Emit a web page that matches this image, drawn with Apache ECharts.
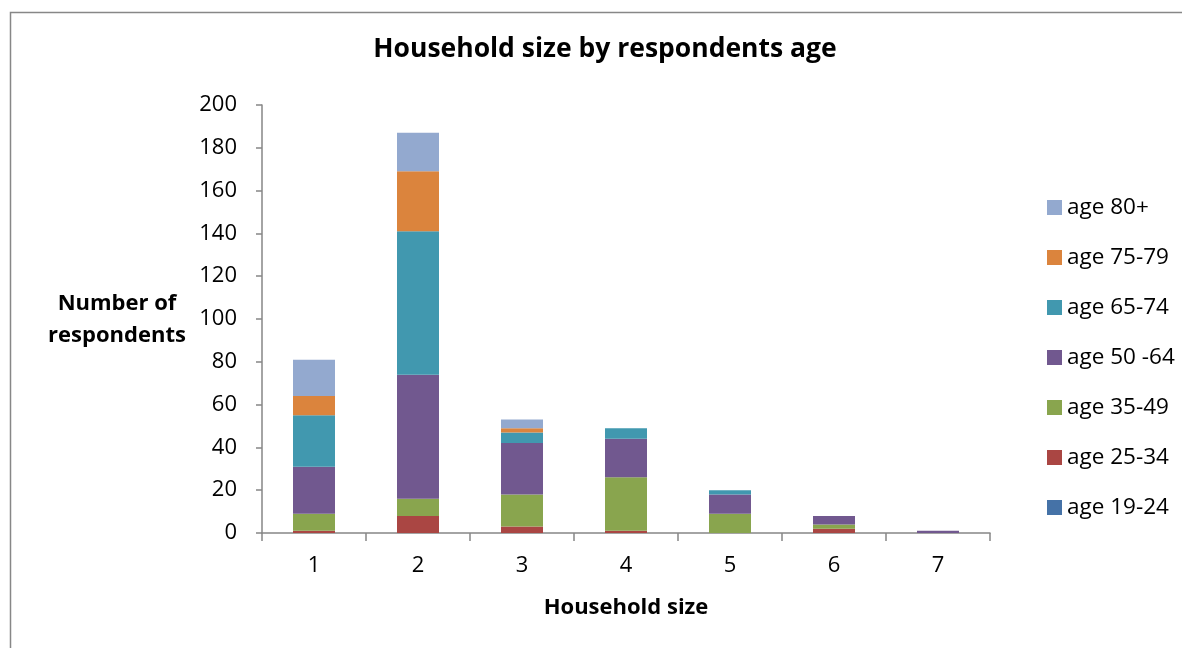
<!DOCTYPE html>
<html>
<head>
<meta charset="utf-8">
<script src="https://cdn.jsdelivr.net/npm/echarts@6/dist/echarts.min.js"></script>
<style>
  html, body { margin: 0; padding: 0; background: #ffffff; }
  #chart { width: 1182px; height: 648px; }
</style>
</head>
<body>
<div id="chart"></div>
<script>
// Household sizes (x categories)
const householdSizes = ['1', '2', '3', '4', '5', '6', '7'];

// Respondent counts per age group, one value per household size
const age19to24 = [0, 0, 0, 0, 0, 0, 0];
const age25to34 = [1, 8, 3, 1, 0, 2, 0];
const age35to49 = [8, 8, 15, 25, 9, 2, 0];
const age50to64 = [22, 58, 24, 18, 9, 4, 1];
const age65to74 = [24, 67, 5, 5, 2, 0, 0];
const age75to79 = [9, 28, 2, 0, 0, 0, 0];
const age80plus = [17, 18, 4, 0, 0, 0, 0];

const seriesNames = ['age 19-24', 'age 25-34', 'age 35-49', 'age 50 -64', 'age 65-74', 'age 75-79', 'age 80+'];
const seriesData = [age19to24, age25to34, age35to49, age50to64, age65to74, age75to79, age80plus];
const seriesColors = ['#4572A7', '#AA4643', '#89A54E', '#71588F', '#4198AF', '#DB843D', '#93A9CF'];

const FONT = '"Open Sans", "Noto Sans", sans-serif';
const AXIS_COLOR = '#868686';

const chart = echarts.init(document.getElementById('chart'), null, { renderer: 'canvas' });

chart.setOption({
  backgroundColor: '#ffffff',
  animation: false,
  title: {
    text: 'Household size by respondents age',
    left: 605,
    top: 36,
    padding: 0,
    textAlign: 'center',
    textStyle: { fontFamily: FONT, fontSize: 26.5, fontWeight: 'bold', color: '#000000' }
  },
  legend: {
    orient: 'vertical',
    left: 1047,
    top: 195,
    padding: 0,
    itemWidth: 15,
    itemHeight: 15,
    itemGap: 25,
    icon: 'rect',
    data: seriesNames.slice().reverse(),
    textStyle: { fontFamily: FONT, fontSize: 22.5, color: '#000000', lineHeight: 25 }
  },
  grid: { left: 262, right: 192, top: 105, bottom: 115, containLabel: false },
  xAxis: {
    type: 'category',
    data: householdSizes,
    name: 'Household size',
    nameLocation: 'middle',
    nameGap: 64,
    nameTextStyle: { fontFamily: FONT, fontSize: 22, fontWeight: 'bold', color: '#000000' },
    axisLine: { lineStyle: { color: AXIS_COLOR, width: 1.5 } },
    axisTick: { show: true, length: 8, interval: 0, alignWithLabel: false, lineStyle: { color: AXIS_COLOR, width: 1.5 } },
    axisLabel: { fontFamily: FONT, fontSize: 22, color: '#000000', margin: 22 }
  },
  yAxis: {
    type: 'value',
    min: 0,
    max: 200,
    interval: 20,
    axisLine: { show: true, lineStyle: { color: AXIS_COLOR, width: 1.5 } },
    axisTick: { show: true, length: 6, lineStyle: { color: AXIS_COLOR, width: 1.5 } },
    splitLine: { show: false },
    axisLabel: { fontFamily: FONT, fontSize: 22, color: '#000000', margin: 25 }
  },
  graphic: [
    {
      type: 'rect',
      shape: { x: 10.5, y: 12.5, width: 1300, height: 800 },
      style: { fill: 'none', stroke: '#878787', lineWidth: 1.5 },
      silent: true,
      z: -10
    },
    {
      type: 'text',
      x: 117,
      y: 320,
      style: {
        text: 'Number of\nrespondents',
        align: 'center',
        verticalAlign: 'middle',
        fontFamily: FONT,
        fontSize: 22,
        fontWeight: 'bold',
        lineHeight: 32,
        fill: '#000000'
      }
    }
  ],
  series: seriesNames.map((name, i) => ({
    name: name,
    type: 'bar',
    stack: 'total',
    barWidth: 42,
    data: seriesData[i],
    itemStyle: { color: seriesColors[i] }
  }))
});
</script>
</body>
</html>
